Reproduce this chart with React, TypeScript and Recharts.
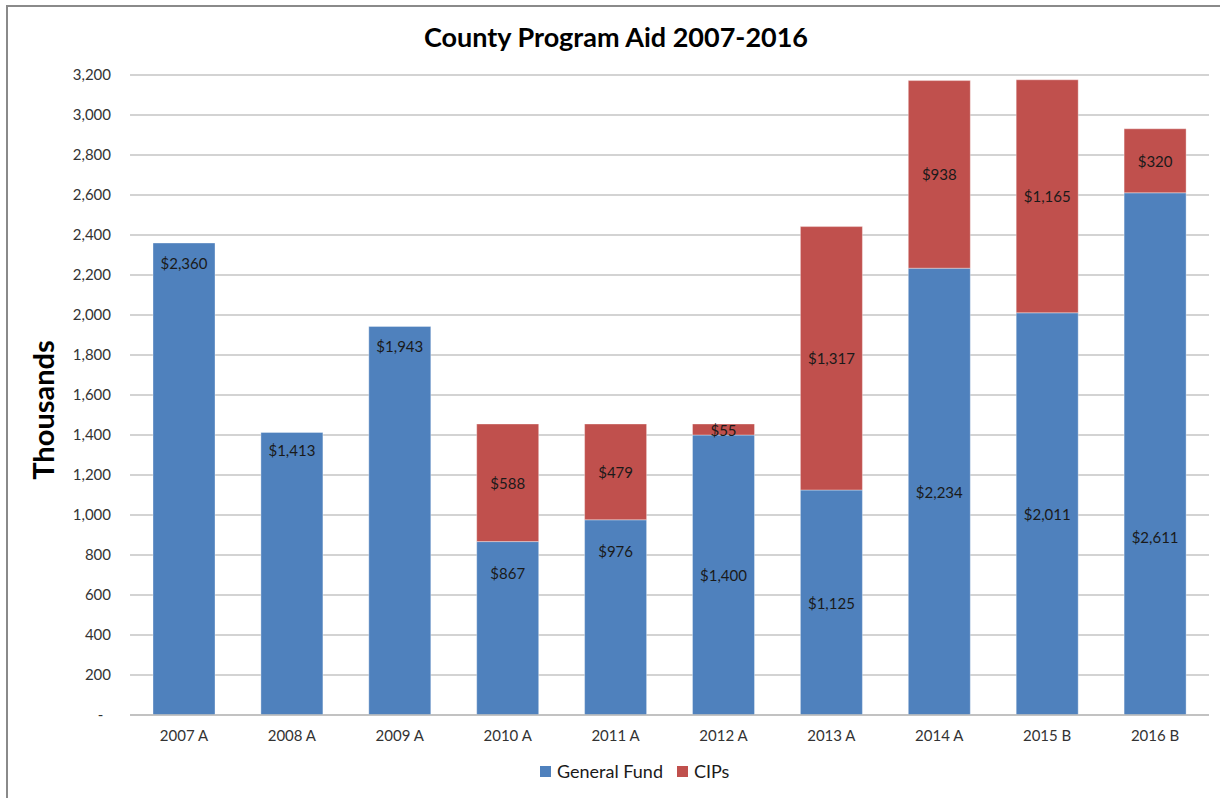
import React from 'react';
import { BarChart, Bar, XAxis, YAxis, CartesianGrid, Legend, LabelList } from 'recharts';

const categories = ['2007 A', '2008 A', '2009 A', '2010 A', '2011 A', '2012 A', '2013 A', '2014 A', '2015 B', '2016 B'];
const generalFund = [2360, 1413, 1943, 867, 976, 1400, 1125, 2234, 2011, 2611];
const cips: (number | null)[] = [null, null, null, 588, 479, 55, 1317, 938, 1165, 320];
const yTicks = [0, 200, 400, 600, 800, 1000, 1200, 1400, 1600, 1800, 2000, 2200, 2400, 2600, 2800, 3000, 3200];

// label placement style for General Fund labels (px below segment top; null = centred)
const gfLabelOffset: (number | null)[] = [20, 18, 20, 31, 31, null, null, null, null, 344];

const data = categories.map((c, i) => ({ name: c, gf: generalFund[i], cip: cips[i] }));

const FONT = 'Lato, "Open Sans", sans-serif';
const BLUE = '#4F81BD';
const RED = '#C0504D';

const money = (v: number) => '$' + v.toLocaleString('en-US');

const GfLabel = (props: any) => {
  const { x, y, width, height, value, index } = props;
  if (value == null) return null;
  const top = Math.min(y, y + height);
  const h = Math.abs(height);
  const off = gfLabelOffset[index];
  const cy = off == null ? top + h / 2 : top + off;
  return (
    <text x={x + width / 2} y={cy} textAnchor="middle" dominantBaseline="central" fontSize={15} fontFamily={FONT} fill="#1a1a1a">
      {money(value)}
    </text>
  );
};

const CipLabel = (props: any) => {
  const { x, y, width, height, value } = props;
  if (value == null) return null;
  const top = Math.min(y, y + height);
  const h = Math.abs(height);
  return (
    <text x={x + width / 2} y={top + h / 2} textAnchor="middle" dominantBaseline="central" fontSize={15} fontFamily={FONT} fill="#1a1a1a">
      {money(value)}
    </text>
  );
};

const LegendContent = () => (
  <div style={{ display: 'flex', alignItems: 'center', fontFamily: FONT, fontSize: 18, color: '#1a1a1a', whiteSpace: 'nowrap' }}>
    <span style={{ display: 'inline-block', width: 11, height: 11, background: BLUE, marginRight: 6 }} />
    <span style={{ marginRight: 14 }}>General Fund</span>
    <span style={{ display: 'inline-block', width: 11, height: 11, background: RED, marginRight: 6 }} />
    <span>CIPs</span>
  </div>
);

const YLabel = () => (
  <text x={42} y={410} transform="rotate(-90 42 410)" textAnchor="middle" dominantBaseline="central" fontSize={29} fontWeight={700} fontFamily={FONT} fill="#000">
    Thousands
  </text>
);

export default function App() {
  return (
    <div style={{ position: 'absolute', left: 0, top: 0, width: 1220, height: 798, background: '#fff', overflow: 'hidden' }}>
      <div style={{ position: 'absolute', left: 6, top: 5, width: 1230, height: 820, borderLeft: '2px solid #8a8a8a', borderTop: '2px solid #8a8a8a' }} />
      <div style={{ position: 'absolute', left: 0, top: 23, width: 1232, textAlign: 'center', fontFamily: FONT, fontWeight: 700, fontSize: 27, lineHeight: '27px', color: '#000' }}>
        County Program Aid 2007-2016
      </div>
      <div style={{ position: 'absolute', left: 0, top: 0 }}>
        <BarChart width={1220} height={798} data={data} margin={{ top: 75, right: 11, bottom: 53, left: 0 }}>
          <CartesianGrid vertical={false} stroke="#c4c4c4" strokeWidth={1.5} />
          <XAxis
            dataKey="name"
            height={30}
            tickLine={false}
            axisLine={{ stroke: '#bdbdbd', strokeWidth: 1.5 }}
            tickMargin={9}
            tick={{ fontSize: 15, fontFamily: FONT, fill: '#333' }}
            interval={0}
          />
          <YAxis
            width={130}
            domain={[0, 3200]}
            ticks={yTicks}
            interval={0}
            tickLine={false}
            axisLine={false}
            tickMargin={13}
            tick={{ fontSize: 15, fontFamily: FONT, fill: '#333' }}
            tickFormatter={(v: number) => (v === 0 ? '-\u00a0\u00a0' : v.toLocaleString('en-US'))}
            label={{ content: YLabel } as any}
          />
          <Legend
            layout="horizontal"
            verticalAlign="middle"
            align="center"
            content={LegendContent as any}
            wrapperStyle={{ left: 540, top: 760, width: 'auto', height: 24 }}
          />
          <Bar dataKey="gf" name="General Fund" stackId="a" fill={BLUE} barSize={62} isAnimationActive={false} stroke="#ffffff" strokeOpacity={0.35} strokeWidth={1}>
            <LabelList dataKey="gf" content={GfLabel as any} />
          </Bar>
          <Bar dataKey="cip" name="CIPs" stackId="a" fill={RED} barSize={62} isAnimationActive={false} stroke="#ffffff" strokeOpacity={0.35} strokeWidth={1}>
            <LabelList dataKey="cip" content={CipLabel as any} />
          </Bar>
        </BarChart>
      </div>
    </div>
  );
}
